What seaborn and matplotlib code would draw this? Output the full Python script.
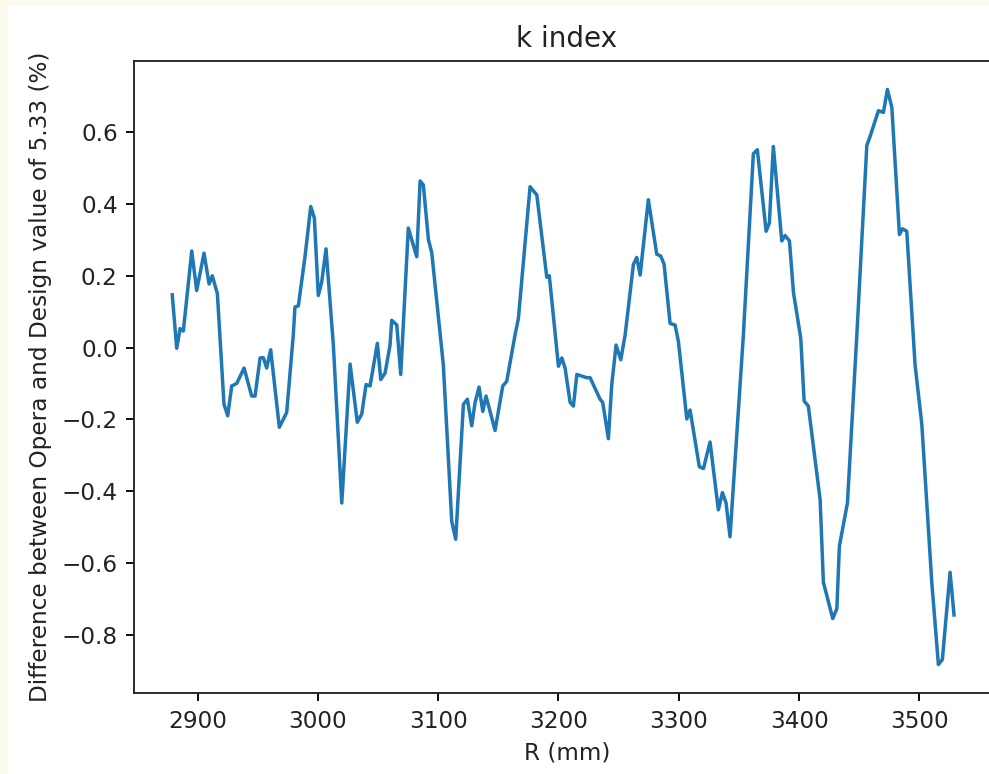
import numpy as np
import pandas as pd
import seaborn as sns
import matplotlib.pyplot as plt
from matplotlib.patches import Rectangle

# %% ---- data ---------------------------------------------
r_mm = [2879.0, 2882.7, 2885.5, 2888.2, 2895.2, 2899.3, 2905.4, 2909.6, 2912.3, 2916.5,
        2922.0, 2925.1, 2928.4, 2932.6, 2938.7, 2945.0, 2947.8, 2952.0, 2954.7, 2957.5,
        2960.8, 2968.0, 2974.1, 2979.6, 2981.0, 2983.8, 2989.4, 2994.1, 2997.1, 3000.4,
        3003.2, 3006.8, 3012.9, 3019.9, 3026.8, 3032.8, 3036.5, 3040.1, 3043.4, 3049.5,
        3052.3, 3055.9, 3060.0, 3061.4, 3065.6, 3068.9, 3075.2, 3082.2, 3085.0, 3087.7,
        3091.9, 3094.7, 3104.3, 3111.3, 3114.6, 3121.0, 3124.3, 3127.9, 3130.7, 3134.0,
        3137.1, 3139.8, 3147.3, 3153.7, 3157.0, 3163.9, 3166.7, 3176.4, 3182.0, 3190.3,
        3192.4, 3200.0, 3202.8, 3205.5, 3209.7, 3212.4, 3215.3, 3223.5, 3226.3, 3234.6,
        3236.8, 3241.5, 3244.3, 3247.9, 3251.8, 3255.4, 3262.3, 3265.1, 3267.9, 3274.7,
        3281.7, 3285.0, 3287.8, 3292.8, 3296.9, 3299.7, 3306.7, 3309.4, 3317.1, 3320.5,
        3326.0, 3332.9, 3336.3, 3339.3, 3342.6, 3353.7, 3362.0, 3365.3, 3372.6, 3375.3,
        3378.6, 3385.6, 3388.4, 3392.0, 3395.3, 3401.4, 3404.2, 3407.7, 3417.5, 3420.2,
        3428.0, 3431.4, 3433.5, 3440.2, 3448.0, 3456.3, 3459.0, 3466.0, 3470.1, 3473.4,
        3477.1, 3483.4, 3485.9, 3489.5, 3496.4, 3502.0, 3510.3, 3515.8, 3519.1, 3525.5,
        3528.8]
diff_pct = [0.147, -0.002, 0.053, 0.046, 0.269, 0.159, 0.263, 0.177, 0.200, 0.150,
            -0.158, -0.190, -0.107, -0.100, -0.057, -0.135, -0.135, -0.029, -0.028, -0.057,
            -0.006, -0.222, -0.181, 0.035, 0.113, 0.116, 0.255, 0.393, 0.361, 0.145,
            0.182, 0.275, 0.007, -0.433, -0.046, -0.208, -0.185, -0.103, -0.107, 0.012,
            -0.089, -0.071, 0.007, 0.076, 0.063, -0.075, 0.333, 0.253, 0.464, 0.453,
            0.301, 0.264, -0.048, -0.484, -0.534, -0.158, -0.144, -0.218, -0.153, -0.110,
            -0.178, -0.135, -0.231, -0.107, -0.094, 0.035, 0.081, 0.448, 0.425, 0.196,
            0.200, -0.052, -0.029, -0.057, -0.153, -0.163, -0.075, -0.084, -0.084, -0.144,
            -0.153, -0.254, -0.103, 0.007, -0.034, 0.035, 0.232, 0.251, 0.202, 0.412,
            0.260, 0.255, 0.232, 0.067, 0.063, 0.017, -0.199, -0.174, -0.332, -0.337,
            -0.263, -0.452, -0.404, -0.433, -0.527, 0.035, 0.540, 0.551, 0.324, 0.347,
            0.560, 0.297, 0.312, 0.297, 0.154, 0.026, -0.149, -0.163, -0.424, -0.654,
            -0.755, -0.727, -0.553, -0.433, 0.035, 0.563, 0.588, 0.660, 0.655, 0.719,
            0.669, 0.315, 0.331, 0.324, -0.048, -0.213, -0.654, -0.883, -0.869, -0.626,
            -0.745]

title = 'k index'
x_label = 'R (mm)'
y_label = 'Difference between Opera and Design value of 5.33 (%)'

# %% ---- style ------------------------
s = 1.67  # picture is a scaled-up default matplotlib figure
plt.rcParams.update({
    'font.family': ['DejaVu Sans'],
    'font.size': 10 * s,
    'axes.titlesize': 12 * s,
    'axes.linewidth': 0.8 * s,
    'axes.titlepad': 6 * s,
    'axes.labelpad': 4 * s,
    'lines.linewidth': 1.5 * s,
    'xtick.major.size': 3.5 * s,
    'ytick.major.size': 3.5 * s,
    'xtick.major.width': 0.8 * s,
    'ytick.major.width': 0.8 * s,
    'xtick.major.pad': 3.5 * s,
    'ytick.major.pad': 3.5 * s,
    'text.color': '#222222',
    'axes.labelcolor': '#222222',
    'xtick.labelcolor': '#222222',
    'ytick.labelcolor': '#222222',
    'axes.edgecolor': '#222222',
})

df = pd.DataFrame({'R': r_mm, 'diff': diff_pct})

# %% ---- graph ------------------------
fig = plt.figure(figsize=(9.89, 7.74), dpi=100, facecolor='#fdfbee')
# white page inside a thin cream border
fig.patches.append(Rectangle((8 / 989, 0), 1, 1 - 6 / 774, transform=fig.transFigure,
                             facecolor='white', edgecolor='none', zorder=-10))
# the screenshot cuts the axes off just before its right spine
ax = fig.add_axes([134 / 989, 1 - 693.3 / 774, (1000 - 134) / 989, (693.3 - 60.7) / 774])
ax.set_zorder(5)

sns.lineplot(df, x='R', y='diff', ax=ax, color='#1f77b4', sort=False)
ax.set_title(title)
ax.set_xlabel(x_label)
ax.set_ylabel(y_label)
ax.set_xticks([2900, 3000, 3100, 3200, 3300, 3400, 3500])
ax.set_yticks([-0.8, -0.6, -0.4, -0.2, 0.0, 0.2, 0.4, 0.6])
ax.set_xlim(2847.2, 3567)

fig.savefig('out.png', dpi=100, facecolor=fig.get_facecolor())
